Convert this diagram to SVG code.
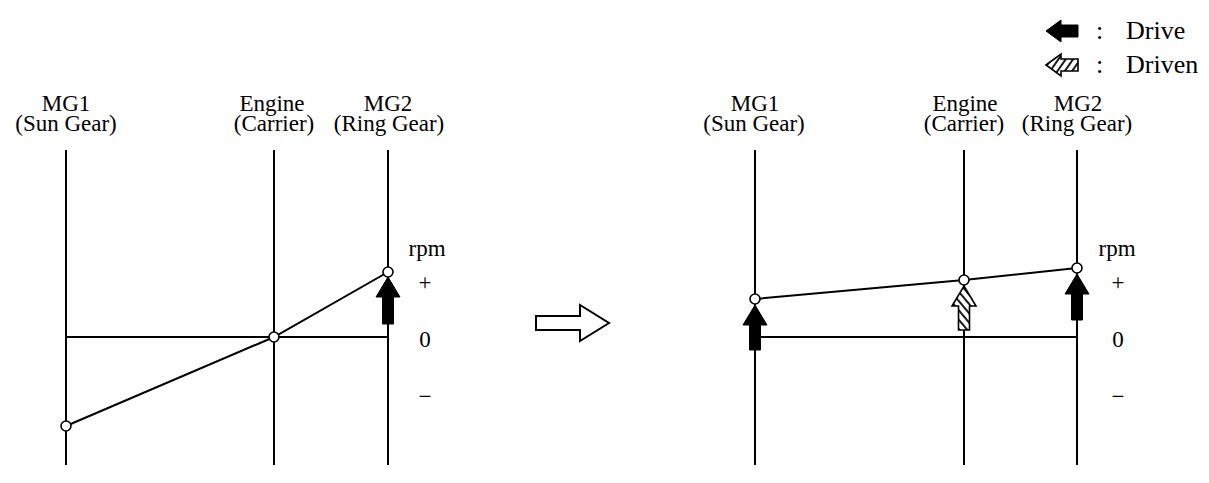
<svg xmlns="http://www.w3.org/2000/svg" width="1209" height="483" viewBox="0 0 1209 483">
<style>
text{font-family:"Liberation Serif","Times New Roman",serif;font-size:23px;fill:#000}
.c{text-anchor:middle}
.lg{font-size:26px}
.ln{stroke:#000;stroke-width:2;fill:none}
.pt{fill:#fff;stroke:#000;stroke-width:1.6}
.blk{fill:#000;stroke:#000;stroke-width:1}
.hol{fill:#fff;stroke:#000;stroke-width:2}
.hat{stroke:#000;stroke-width:1.8}
</style>
<defs>
<pattern id="hatchV" width="6" height="6" patternUnits="userSpaceOnUse" patternTransform="rotate(-40)">
<rect width="6" height="6" fill="#fff"/><line x1="1" y1="0" x2="1" y2="6" class="hat"/>
</pattern>
<pattern id="hatchH" width="6" height="6" patternUnits="userSpaceOnUse" patternTransform="rotate(35)">
<rect width="6" height="6" fill="#fff"/><line x1="1" y1="0" x2="1" y2="6" class="hat"/>
</pattern>
</defs>

<g id="legend">
<polygon class="blk" points="1046,31 1061,20 1061,25 1078,25 1078,37 1061,37 1061,42"/>
<text class="lg" x="1096" y="39">:</text>
<text class="lg" x="1126" y="39">Drive</text>
<polygon points="1046,65 1061,54 1061,59 1078,59 1078,71 1061,71 1061,76" fill="url(#hatchH)" stroke="#000" stroke-width="1.6"/>
<text class="lg" x="1096" y="73">:</text>
<text class="lg" x="1126" y="73">Driven</text>
</g>

<g id="left-diagram">
<g id="left-axes">
<line class="ln" x1="66" y1="150" x2="66" y2="465"/>
<line class="ln" x1="274" y1="150" x2="274" y2="465"/>
<line class="ln" x1="388" y1="150" x2="388" y2="465"/>
<line class="ln" x1="66" y1="337" x2="388" y2="337"/>
</g>
<g id="left-labels">
<text class="c" x="66" y="111">MG1</text>
<text class="c" x="66" y="131">(Sun Gear)</text>
<text class="c" x="272" y="111">Engine</text>
<text class="c" x="274" y="131">(Carrier)</text>
<text class="c" x="388" y="111">MG2</text>
<text class="c" x="389" y="131">(Ring Gear)</text>
<text class="c" x="427" y="256">rpm</text>
<text class="c" x="425" y="290">+</text>
<text class="c" x="425" y="347">0</text>
<text class="c" x="425" y="404">−</text>
</g>
<g id="left-connectors">
<polyline class="ln" points="66,426 274,337 388,272"/>
</g>
<g id="left-points">
<circle class="pt" cx="66" cy="426" r="5"/>
<circle class="pt" cx="274" cy="337" r="5"/>
<circle class="pt" cx="388" cy="272" r="5"/>
</g>
<polygon id="left-mg2-drive" class="blk" points="388,277 400,297 393.5,297 393.5,324 382.5,324 382.5,297 376,297"/>
</g>

<g id="transition-arrow">
<polygon class="hol" points="536,316 580,316 580,305 609,323 580,341 580,330 536,330"/>
</g>

<g id="right-diagram">
<g id="right-axes">
<line class="ln" x1="755" y1="150" x2="755" y2="465"/>
<line class="ln" x1="964" y1="150" x2="964" y2="465"/>
<line class="ln" x1="1077" y1="150" x2="1077" y2="465"/>
<line class="ln" x1="755" y1="337" x2="1077" y2="337"/>
</g>
<g id="right-labels">
<text class="c" x="755" y="111">MG1</text>
<text class="c" x="754" y="131">(Sun Gear)</text>
<text class="c" x="965" y="111">Engine</text>
<text class="c" x="964" y="131">(Carrier)</text>
<text class="c" x="1078" y="111">MG2</text>
<text class="c" x="1077" y="131">(Ring Gear)</text>
<text class="c" x="1117" y="256">rpm</text>
<text class="c" x="1118" y="290">+</text>
<text class="c" x="1118" y="347">0</text>
<text class="c" x="1118" y="404">−</text>
</g>
<g id="right-connectors">
<polyline class="ln" points="755,299 964,280 1077,268"/>
</g>
<g id="right-points">
<circle class="pt" cx="755" cy="299" r="5"/>
<circle class="pt" cx="964" cy="280" r="5"/>
<circle class="pt" cx="1077" cy="268" r="5"/>
</g>
<polygon id="right-mg1-drive" class="blk" points="755,305 767,325 760.5,325 760.5,350 749.5,350 749.5,325 743,325"/>
<polygon id="right-engine-driven" points="964,286 976,306 969.5,306 969.5,330 958.5,330 958.5,306 952,306" fill="url(#hatchV)" stroke="#000" stroke-width="1.6"/>
<polygon id="right-mg2-drive" class="blk" points="1077,274 1089,294 1082.5,294 1082.5,320 1071.5,320 1071.5,294 1065,294"/>
</g>
</svg>
